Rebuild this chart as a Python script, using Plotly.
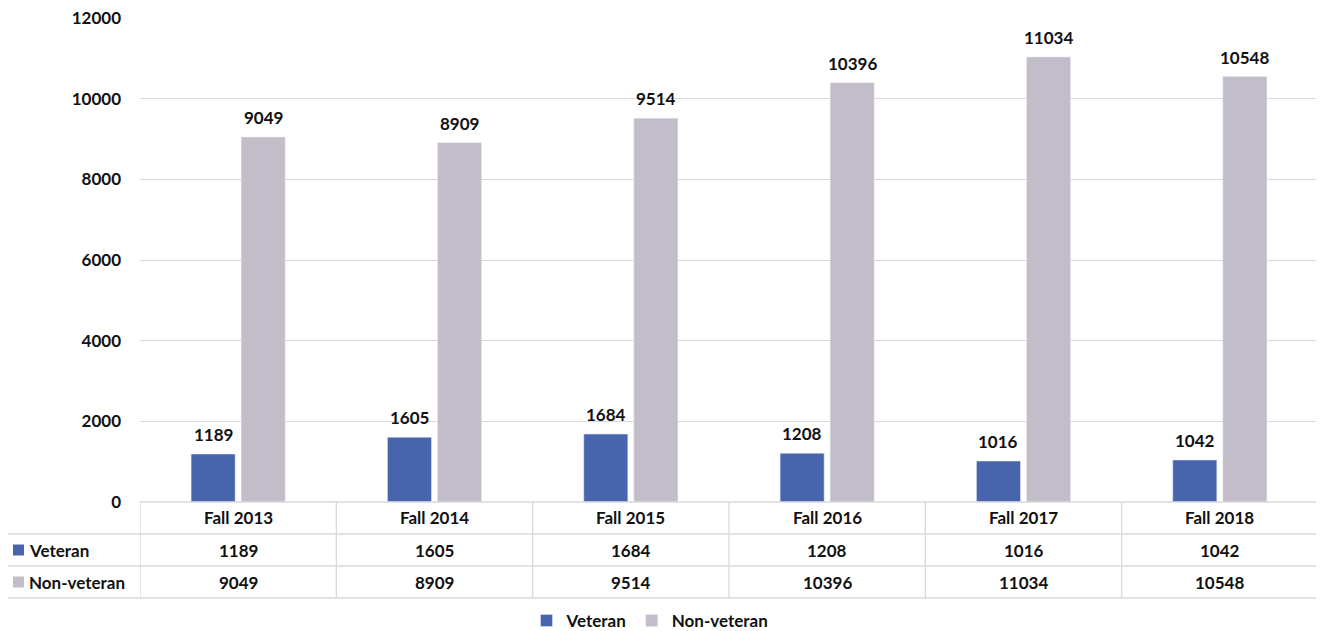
import plotly.graph_objects as go

terms = ["Fall 2013", "Fall 2014", "Fall 2015", "Fall 2016", "Fall 2017", "Fall 2018"]
veteran = [1189, 1605, 1684, 1208, 1016, 1042]
non_veteran = [9049, 8909, 9514, 10396, 11034, 10548]
series_names = ["Veteran", "Non-veteran"]
series_colors = ["#4864AC", "#C3BCC9"]

FONT = "Lato"
GRID = "#D9D9D9"
INK = "#111111"
BARGAP = 0.49

# the html page has an 8px body margin, so work in page pixels minus 8
OFF = 8
W, H = 1324 - OFF, 631 - OFF
LEFT, RIGHT, TOP, BOTTOM = 140 - OFF, 1318 - OFF, 18 - OFF, 502 - OFF
ROW_H = 32
TABLE_LEFT = 5 - OFF


def py(p):
    return (BOTTOM - p) / (BOTTOM - TOP)


def px_(p):
    return (p - LEFT) / (RIGHT - LEFT)


tfont = dict(family=FONT, size=17, color=INK, weight="bold")

fig = go.Figure()
for name, vals, col in zip(series_names, [veteran, non_veteran], series_colors):
    fig.add_trace(go.Bar(name=name, x=list(range(len(terms))), y=vals, marker_color=col))

shapes = []
annotations = []

# value labels above the bars (offset of each bar inside its group)
half = (1 - BARGAP) / 4
for j, vals in enumerate([veteran, non_veteran]):
    for i, v in enumerate(vals):
        annotations.append(dict(x=i + (half if j else -half), y=v, xref="x", yref="y",
                                xanchor="center", yanchor="bottom", yshift=7,
                                text=str(v), showarrow=False, font=tfont))

row_tops = [BOTTOM, BOTTOM + ROW_H, BOTTOM + 2 * ROW_H, BOTTOM + 3 * ROW_H]
line = dict(color=GRID, width=1.3)
# horizontal table lines
for i, r in enumerate(row_tops):
    x0 = LEFT if i == 0 else TABLE_LEFT
    shapes.append(dict(type="line", xref="paper", yref="paper",
                       x0=px_(x0), x1=1, y0=py(r), y1=py(r), line=line))
# vertical table lines
shapes.append(dict(type="line", xref="paper", yref="paper", x0=px_(TABLE_LEFT), x1=px_(TABLE_LEFT),
                   y0=py(row_tops[1]), y1=py(row_tops[3]), line=line))
for k in range(len(terms) + 1):
    shapes.append(dict(type="line", xref="x", yref="paper", x0=k - 0.5, x1=k - 0.5,
                       y0=py(row_tops[0]), y1=py(row_tops[3]), line=line))

for i, t in enumerate(terms):
    annotations.append(dict(x=i, y=py(BOTTOM + ROW_H / 2), xref="x", yref="paper",
                            xanchor="center", yanchor="middle",
                            text=t, showarrow=False, font=tfont))
    for j, vals in enumerate([veteran, non_veteran]):
        annotations.append(dict(x=i, y=py(BOTTOM + ROW_H * (j + 1.5)), xref="x", yref="paper",
                                xanchor="center", yanchor="middle",
                                text=str(vals[i]), showarrow=False, font=tfont))
for j, (name, col) in enumerate(zip(series_names, series_colors)):
    yc = BOTTOM + ROW_H * (j + 1.5)
    shapes.append(dict(type="rect", xref="paper", yref="paper",
                       x0=px_(13 - OFF), x1=px_(24 - OFF), y0=py(yc - 5.5), y1=py(yc + 5.5),
                       fillcolor=col, line=dict(width=0)))
    annotations.append(dict(x=px_(27 - OFF), y=py(yc), xref="paper", yref="paper",
                            xanchor="left", yanchor="middle",
                            text=name, showarrow=False, font=tfont))

fig.update_layout(
    width=W, height=H,
    margin=dict(l=LEFT, r=W - RIGHT, t=TOP, b=H - BOTTOM, autoexpand=False),
    paper_bgcolor="white", plot_bgcolor="white",
    barmode="group", bargap=BARGAP, bargroupgap=0.12,
    font=dict(family=FONT, color=INK),
    shapes=shapes, annotations=annotations,
    legend=dict(orientation="h", x=px_(650 - OFF), xanchor="center", y=py(621 - OFF),
                yanchor="middle", font=tfont, itemwidth=30),
    xaxis=dict(range=[-0.5, len(terms) - 0.5], showticklabels=False, showgrid=False,
               zeroline=False, showline=False, automargin=False),
    yaxis=dict(range=[0, 12000], dtick=2000, tickformat="d", gridcolor=GRID, gridwidth=1.3,
               zeroline=False, showline=False, ticklabelstandoff=18, automargin=False,
               ticklabeloverflow="allow", tickfont=tfont),
)

fig.write_html("out.html")
